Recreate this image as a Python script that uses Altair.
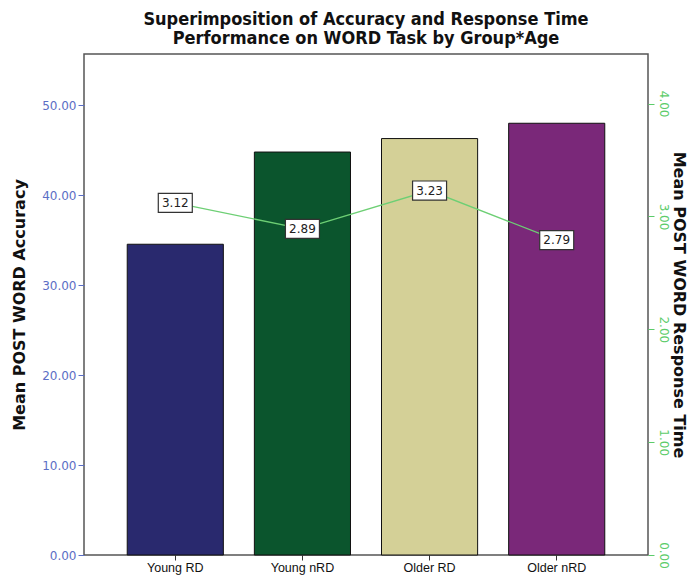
import altair as alt
import pandas as pd

groups = ["Young RD", "Young nRD", "Older RD", "Older nRD"]
accuracy = [34.55, 44.8, 46.3, 48.0]
response_time = [3.12, 2.89, 3.23, 2.79]
rt_labels = ["3.12", "2.89", "3.23", "2.79"]
bar_colors = ["#29296e", "#0b552d", "#d4d097", "#7a2879"]

df = pd.DataFrame({
    "group": groups,
    "acc": accuracy,
    "rt": response_time,
    "lab": rt_labels,
})

x_enc = alt.X(
    "group:N",
    sort=groups,
    title=None,
    scale=alt.Scale(paddingInner=0.244, paddingOuter=0.34),
    axis=alt.Axis(
        labelAngle=0, labelFont="Liberation Sans", labelFontSize=12.5,
        labelColor="#111111", tickColor="#333333", tickSize=5,
        domain=False, labelPadding=1,
    ),
)

bars = alt.Chart(df).mark_bar(stroke="#111111", strokeWidth=1).encode(
    x=x_enc,
    y=alt.Y(
        "acc:Q",
        title="Mean POST WORD Accuracy",
        scale=alt.Scale(domain=[0, 55.7], nice=False, zero=True),
        axis=alt.Axis(
            orient="left", values=[0, 10, 20, 30, 40, 50], format=".2f",
            labelColor="#5b6ec5", tickColor="#5b6ec5", labelFont="DejaVu Sans",
            labelFontSize=12, tickSize=6, grid=False, domain=False,
            titleFont="DejaVu Sans", titleFontSize=16, titleFontWeight="bold",
            titleColor="#111111", titlePadding=14,
        ),
    ),
    color=alt.Color("group:N", sort=groups,
                    scale=alt.Scale(domain=groups, range=bar_colors), legend=None),
)

y_rt = alt.Y(
    "rt:Q",
    title="Mean POST WORD Response Time",
    scale=alt.Scale(domain=[0, 4.44], nice=False, zero=True),
    axis=alt.Axis(
        orient="right", values=[0, 1, 2, 3, 4], format=".2f",
        labelColor="#5ccc6a", tickColor="#5ccc6a", labelFont="DejaVu Sans",
        labelFontSize=12, labelAngle=90, labelAlign="center", labelBaseline="bottom",
        tickSize=6, grid=False, domain=False,
        titleFont="DejaVu Sans", titleFontSize=16, titleFontWeight="bold",
        titleColor="#111111", titlePadding=1,
    ),
)

base = alt.Chart(df).encode(x=alt.X("group:N", sort=groups), y=y_rt)

line = base.mark_line(color="#6dcf74", strokeWidth=1.3)
boxes = base.mark_point(
    shape="M -1 -0.56 H 1 V 0.56 H -1 Z", size=1156, filled=True,
    fill="white", stroke="#333333", strokeWidth=1.2, opacity=1,
)
texts = base.mark_text(font="DejaVu Sans", fontSize=12, color="#222222").encode(text="lab:N")

rt_layer = alt.layer(line, boxes, texts)

chart = alt.layer(bars, rt_layer).resolve_scale(y="independent").properties(
    width=564,
    height=501,
    title=alt.TitleParams(
        text=["Superimposition of Accuracy and Response Time",
              "Performance on WORD Task by Group*Age"],
        font="DejaVu Sans Condensed", fontSize=18, fontWeight="bold",
        color="#111111", anchor="middle", offset=6, lineHeight=19,
    ),
    autosize=alt.AutoSizeParams(type="none"),
    padding={"left": 76, "top": 46, "right": 43, "bottom": 20},
    background="white",
).configure_view(stroke="#555555", strokeWidth=1.5)

chart.save("out.html", embed_options={"renderer": "svg", "actions": False})
